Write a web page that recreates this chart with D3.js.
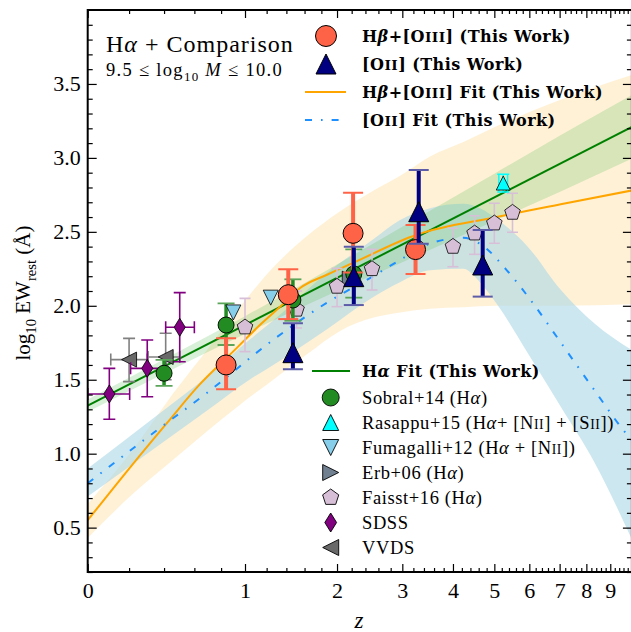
<!DOCTYPE html>
<html><head><meta charset="utf-8">
<script src="https://cdn.jsdelivr.net/npm/d3@7"></script>
<style>
body{margin:0;background:#fff}
svg{display:block}
text{fill:#000}
</style>
</head><body>
<svg id="c" width="631" height="632" font-family="Liberation Serif, Times New Roman, serif"></svg>
<script>
// ---------------- data ----------------
const zMajor = [0,1,2,3,4,5,6,7,8,9];
const zTickLabels = ["0","1","2","3","4","5","6","7","8","9"];
const yMajor = [0.5,1.0,1.5,2.0,2.5,3.0,3.5];
const yTickLabels = ["0.5","1.0","1.5","2.0","2.5","3.0","3.5"];

// H-beta + [OIII] (This Work)
const hbZ  = [0.84, 1.42, 2.22, 3.24];
const hbEW = [1.60, 2.075, 2.49, 2.38];
const hbLo = [1.435, 1.91, 2.225, 2.215];
const hbHi = [1.78, 2.247, 2.765, 2.546];
// [OII] (This Work)
const o2Z  = [1.47, 2.23, 3.30, 4.70];
const o2EW = [1.683, 2.197, 2.636, 2.276];
const o2Lo = [1.571, 2.005, 2.42, 2.062];
const o2Hi = [1.882, 2.40, 2.918, 2.513];
// Sobral+14
const sobZ  = [0.40, 0.84, 1.47, 2.23];
const sobEW = [1.544, 1.870, 2.039, 2.215];
const sobLo = [1.458, 1.735, 1.899, 2.055];
const sobHi = [1.634, 2.017, 2.179, 2.382];
// Rasappu+15
const rasZ = [5.24]; const rasEW = [2.83];
const rasZLo = [5.12]; const rasZHi = [5.36];
const rasLo = [2.77]; const rasHi = [2.89];
// Fumagalli+12
const fumZ = [0.90, 1.24]; const fumEW = [1.955, 2.055];
// Erb+06
const erbZ = [2.18]; const erbEW = [2.18];
// Faisst+16
const faiZ  = [1.0, 1.51, 2.0, 2.5, 4.0, 4.5, 5.0, 5.5];
const faiEW = [1.855, 1.975, 2.13, 2.249, 2.40, 2.49, 2.558, 2.63];
const faiLo = [1.69, 1.85, 1.994, 2.107, 2.264, 2.348, 2.423, 2.497];
const faiHi = [2.05, 2.10, 2.253, 2.382, 2.524, 2.609, 2.693, 2.761];
// SDSS
const sdssZ   = [0.10, 0.30, 0.50];
const sdssEW  = [1.404, 1.577, 1.855];
const sdssLo  = [1.233, 1.385, 1.622];
const sdssHi  = [1.577, 1.769, 2.089];
const sdssZLo = [0.0, 0.208, 0.41];
const sdssZHi = [0.203, 0.41, 0.60];
// VVDS
const vvZ   = [0.20, 0.41];
const vvEW  = [1.636, 1.654];
const vvLo  = [1.487, 1.50];
const vvHi  = [1.78, 1.814];
const vvZLo = [0.107, 0.305];
const vvZHi = [0.30, 0.50];

// Fits
const haFitZ  = [0, 10];
const haFitEW = [1.325, 3.21];
const haBandZ  = [0, 0.5, 1, 2, 3, 5, 7, 10];
const haBandLo = [1.283, 1.594, 1.81, 2.10, 2.295, 2.573, 2.77, 2.995];
const haBandHi = [1.367, 1.694, 1.93, 2.28, 2.535, 2.893, 3.15, 3.425];

const hbFitZ  = [0, 0.22, 0.42, 0.64, 0.91, 1.15, 1.38, 1.55, 1.87, 2.22, 3.26, 5.06, 7.13, 10];
const hbFitEW = [0.55, 0.93, 1.21, 1.47, 1.70, 1.88, 2.02, 2.12, 2.21, 2.29, 2.48, 2.60, 2.69, 2.78];
const hbBandZ  = [0, 0.222, 0.459, 0.69, 0.954, 1.265, 1.624, 2.041, 2.524, 2.963, 3.519, 4.248, 5.026, 7.128, 10];
const hbBandLo = [0.43, 0.73, 0.96, 1.15, 1.33, 1.50, 1.67, 1.83, 1.92, 1.955, 1.98, 1.99, 2.0, 2.0, 2.01];
const hbBandHi = [0.66, 1.03, 1.41, 1.70, 1.99, 2.26, 2.47, 2.64, 2.78, 2.88, 3.01, 3.11, 3.21, 3.40, 3.56];

const o2FitZ  = [0, 0.335, 0.69, 1.265, 1.866, 2.52, 2.96, 3.52, 4.23, 4.63, 5.34, 6.07, 7.01, 8.28, 9.7, 10];
const o2FitEW = [0.80, 1.14, 1.41, 1.77, 2.02, 2.20, 2.31, 2.42, 2.46, 2.42, 2.24, 2.03, 1.76, 1.44, 1.14, 1.09];
const o2BandZ  = [0, 0.335, 0.69, 1.04, 1.265, 1.866, 2.52, 2.96, 3.52, 4.23, 4.63, 5.1, 5.95, 7.03, 8.33, 10];
const o2BandLo = [0.71, 1.03, 1.29, 1.50, 1.60, 1.84, 2.06, 2.16, 2.24, 2.25, 2.16, 2.00, 1.68, 1.32, 0.94, 0.42];
const o2BandHi = [0.90, 1.24, 1.52, 1.77, 1.90, 2.22, 2.45, 2.58, 2.66, 2.69, 2.66, 2.58, 2.40, 2.11, 1.88, 1.70];

// ---------------- drawing ----------------
const svg = d3.select("#c");
const L = 87.7, R = 631.9, T = 10, B = 572;
const x = d3.scaleLog().domain([1, 11]).range([L, R]);
const X = z => x(1 + z);
const y = d3.scaleLinear().domain([0.2, 4.0]).range([B, T]);

svg.append("rect").attr("width",631).attr("height",632).attr("fill","#fff");
svg.append("defs").append("clipPath").attr("id","clip")
  .append("rect").attr("x",L).attr("y",T).attr("width",R-L).attr("height",B-T);
const plot = svg.append("g").attr("clip-path","url(#clip)");

function zip(zs, a, b){ return zs.map((z,i)=>({z, lo:a[i], hi:b ? b[i] : null})); }
const area = d3.area().x(d=>X(d.z)).y0(d=>y(d.lo)).y1(d=>y(d.hi)).curve(d3.curveMonotoneX);
const line = d3.line().x(d=>X(d.z)).y(d=>y(d.lo)).curve(d3.curveMonotoneX);

plot.append("path").attr("d", area(zip(hbBandZ, hbBandLo, hbBandHi))).attr("fill","orange").attr("fill-opacity",0.16);
plot.append("path").attr("d", area(zip(o2BandZ, o2BandLo, o2BandHi))).attr("fill","#add8e6").attr("fill-opacity",0.62);
plot.append("path").attr("d", area(zip(haBandZ, haBandLo, haBandHi))).attr("fill","#5fc35f").attr("fill-opacity",0.25);

plot.append("path").attr("d", line(zip(haFitZ, haFitEW))).attr("fill","none").attr("stroke","green").attr("stroke-width",2);
plot.append("path").attr("d", line(zip(hbFitZ, hbFitEW))).attr("fill","none").attr("stroke","orange").attr("stroke-width",2);
plot.append("path").attr("d", line(zip(o2FitZ, o2FitEW))).attr("fill","none").attr("stroke","dodgerblue").attr("stroke-width",2)
  .attr("stroke-dasharray","7,9,1.6,9");

// marker shapes
const shapes = {
  up:    r => `M0,${-r}L${r},${r}L${-r},${r}Z`,
  down:  r => `M0,${r}L${r},${-r}L${-r},${-r}Z`,
  left:  r => `M${-r},0L${r},${-r}L${r},${r}Z`,
  right: r => `M${r},0L${-r},${-r}L${-r},${r}Z`,
  diamond: r => `M0,${-r}L${r*0.62},0L0,${r}L${-r*0.62},0Z`,
  pent: r => d3.range(5).map(k=>{const a=(-90+72*k)*Math.PI/180;return (k?"L":"M")+(r*Math.cos(a)).toFixed(2)+","+(r*Math.sin(a)).toFixed(2);}).join("")+"Z",
};
function marker(g, cx, cy, kind, r, fill, stroke, sw){
  if(kind==="circle") return g.append("circle").attr("cx",cx).attr("cy",cy).attr("r",r).attr("fill",fill).attr("stroke",stroke).attr("stroke-width",sw);
  return g.append("path").attr("d",shapes[kind](r)).attr("transform",`translate(${cx},${cy})`).attr("fill",fill).attr("stroke",stroke).attr("stroke-width",sw).attr("stroke-linejoin","miter");
}
function errY(g, cx, y0, y1, color, w, cap, capColor, capW){
  g.append("line").attr("x1",cx).attr("x2",cx).attr("y1",y0).attr("y2",y1).attr("stroke",color).attr("stroke-width",w);
  [y0,y1].forEach(v=>g.append("line").attr("x1",cx-cap).attr("x2",cx+cap).attr("y1",v).attr("y2",v).attr("stroke",capColor).attr("stroke-width",capW));
}
function errX(g, cy, x0, x1, color, w, cap, capColor, capW){
  g.append("line").attr("y1",cy).attr("y2",cy).attr("x1",x0).attr("x2",x1).attr("stroke",color).attr("stroke-width",w);
  [x0,x1].forEach(v=>g.append("line").attr("y1",cy-cap).attr("y2",cy+cap).attr("x1",v).attr("x2",v).attr("stroke",capColor).attr("stroke-width",capW));
}
const pts = svg.append("g").attr("clip-path","url(#clip)");

// Erb+06
erbZ.forEach((z,i)=>marker(pts, X(z), y(erbEW[i]), "right", 8, "slategray", "#000", 0.8));
// Faisst+16
faiZ.forEach((z,i)=>{
  errY(pts, X(z), y(faiLo[i]), y(faiHi[i]), "#d8bfd8", 1.6, 5.5, "#d8bfd8", 1.6);
  marker(pts, X(z), y(faiEW[i]), "pent", 8.2, "#d8bfd8", "#000", 0.8);
});
// VVDS
vvZ.forEach((z,i)=>{
  errY(pts, X(z), y(vvLo[i]), y(vvHi[i]), "#808080", 1.6, 6, "#808080", 1.6);
  errX(pts, y(vvEW[i]), X(vvZLo[i]), X(vvZHi[i]), "#808080", 1.6, 6, "#808080", 1.6);
  marker(pts, X(z), y(vvEW[i]), "left", 7.5, "dimgray", "#000", 0.8);
});
// SDSS
sdssZ.forEach((z,i)=>{
  errY(pts, X(z), y(sdssLo[i]), y(sdssHi[i]), "purple", 1.6, 6, "purple", 1.6);
  errX(pts, y(sdssEW[i]), X(sdssZLo[i]), X(sdssZHi[i]), "purple", 1.6, 6, "purple", 1.6);
  marker(pts, X(z), y(sdssEW[i]), "diamond", 9, "purple", "#000", 0.8);
});
// Sobral+14
sobZ.forEach((z,i)=>{
  errY(pts, X(z), y(sobLo[i]), y(sobHi[i]), "forestgreen", 3.5, 8.5, "#5aa55a", 1.8);
  marker(pts, X(z), y(sobEW[i]), "circle", 8, "forestgreen", "#000", 0.9);
});
// Fumagalli+12
fumZ.forEach((z,i)=>marker(pts, X(z), y(fumEW[i]), "down", 7.5, "skyblue", "#000", 0.8));
// Rasappu+15
rasZ.forEach((z,i)=>{
  errY(pts, X(z), y(rasLo[i]), y(rasHi[i]), "cyan", 1.5, 6, "cyan", 1.5);
  errX(pts, y(rasEW[i]), X(rasZLo[i]), X(rasZHi[i]), "cyan", 1.5, 8.5, "cyan", 1.5);
  marker(pts, X(z), y(rasEW[i]), "up", 7, "cyan", "#000", 0.8);
});
// H-beta + [OIII]
hbZ.forEach((z,i)=>{
  errY(pts, X(z), y(hbLo[i]), y(hbHi[i]), "tomato", 4, 10, "tomato", 2);
  marker(pts, X(z), y(hbEW[i]), "circle", 10, "tomato", "#000", 1);
});
// [OII]
o2Z.forEach((z,i)=>{
  errY(pts, X(z), y(o2Lo[i]), y(o2Hi[i]), "navy", 4, 10, "#5c5ca8", 2);
  marker(pts, X(z), y(o2EW[i]), "up", 10, "navy", "#000", 1);
});

// ---------------- axes ----------------
const minorZ = d3.range(1, 50).map(k=>k*0.2).filter(v=>Math.abs(v-Math.round(v))>1e-6);
const minorY = d3.range(2, 40).map(k=>k/10).filter(v=>Math.abs(v*2-Math.round(v*2))>1e-6);
const ax = svg.append("g");
function styleAxis(g){ g.select(".domain").remove(); g.selectAll("line").attr("stroke","#000").attr("stroke-width",1.2); }
function tickText(g){ g.attr("font-family",null); g.selectAll("text").attr("font-size",22).style("font-family","Liberation Serif"); }
ax.append("g").attr("transform",`translate(0,${B})`)
  .call(d3.axisBottom(x).tickValues(zMajor.map(z=>1+z)).tickFormat((d,i)=>zTickLabels[i]).tickSize(-8).tickPadding(10))
  .call(styleAxis).call(tickText);
ax.append("g").attr("transform",`translate(0,${B})`)
  .call(d3.axisBottom(x).tickValues(minorZ.map(z=>1+z)).tickFormat("").tickSize(-4)).call(styleAxis);
ax.append("g").attr("transform",`translate(0,${T})`)
  .call(d3.axisTop(x).tickValues(zMajor.map(z=>1+z)).tickFormat("").tickSize(-8)).call(styleAxis);
ax.append("g").attr("transform",`translate(0,${T})`)
  .call(d3.axisTop(x).tickValues(minorZ.map(z=>1+z)).tickFormat("").tickSize(-4)).call(styleAxis);
ax.append("g").attr("transform",`translate(${L},0)`)
  .call(d3.axisLeft(y).tickValues(yMajor).tickFormat((d,i)=>yTickLabels[i]).tickSize(-9).tickPadding(7))
  .call(styleAxis).call(tickText);
ax.append("g").attr("transform",`translate(${L},0)`)
  .call(d3.axisLeft(y).tickValues(minorY).tickFormat("").tickSize(-5)).call(styleAxis);
ax.append("g").attr("transform",`translate(${R},0)`)
  .call(d3.axisRight(y).tickValues(yMajor).tickFormat("").tickSize(-9)).call(styleAxis);
ax.append("g").attr("transform",`translate(${R},0)`)
  .call(d3.axisRight(y).tickValues(minorY).tickFormat("").tickSize(-5)).call(styleAxis);
svg.append("rect").attr("x",L).attr("y",T).attr("width",R-L).attr("height",B-T)
  .attr("fill","none").attr("stroke","#000").attr("stroke-width",2);

// ---------------- text helpers ----------------
function rich(t, segs, size, scFactor){
  let shift = 0;
  segs.forEach(s=>{
    const ts = t.append("tspan").text(s.t);
    let fs = size, target = 0;
    if(s.sub){ fs = size*0.7; target = size*0.28; }
    if(s.sc){ fs = size*(scFactor||0.74); }
    if(s.it) ts.attr("font-style","italic");
    ts.attr("font-size", fs);
    const dy = target - shift;
    if(dy) ts.attr("dy", dy);
    shift = target;
  });
  return t;
}

// title
rich(svg.append("text").attr("x",106).attr("y",52).attr("letter-spacing",1.0),
  [{t:"H"},{t:"α",it:true},{t:" + Comparison"}], 24);
rich(svg.append("text").attr("x",106).attr("y",76).attr("letter-spacing",1.3),
  [{t:"9.5 ≤ log"},{t:"10",sub:true},{t:" "},{t:"M",it:true},{t:" ≤ 10.0"}], 18.5);

// axis labels
rich(svg.append("text").attr("transform","translate(30,293) rotate(-90)").attr("text-anchor","middle"),
  [{t:"log"},{t:"10",sub:true},{t:" EW"},{t:"rest",sub:true},{t:" (Å)"}], 21);
svg.append("text").attr("x",359).attr("y",628).attr("text-anchor","middle").attr("font-size",23).attr("font-style","italic").text("z");

// ---------------- legends ----------------
const lg = svg.append("g");
function legText(yy, segs, bold){
  const t = lg.append("text").attr("x",362).attr("y",yy+(bold?5.5:6));
  if(bold) t.style("font-family","DejaVu Serif").attr("font-weight","bold").attr("letter-spacing",0.45);
  else t.attr("letter-spacing",0.6);
  rich(t, segs, bold?16:18.5, bold?0.86:0.74);
}
marker(lg, 326, 36, "circle", 10.5, "tomato", "#000", 1);
legText(36, [{t:"H"},{t:"β",it:true},{t:"+[O"},{t:"III",sc:true},{t:"] (This Work)"}], true);
marker(lg, 326, 64, "up", 10, "navy", "#000", 1);
legText(64, [{t:"[O"},{t:"II",sc:true},{t:"] (This Work)"}], true);
lg.append("line").attr("x1",305).attr("x2",346).attr("y1",92).attr("y2",92).attr("stroke","orange").attr("stroke-width",2);
legText(92, [{t:"H"},{t:"β",it:true},{t:"+[O"},{t:"III",sc:true},{t:"] Fit (This Work)"}], true);
lg.append("line").attr("x1",305).attr("x2",346).attr("y1",120).attr("y2",120).attr("stroke","dodgerblue").attr("stroke-width",2).attr("stroke-dasharray","7,9,1.6,9");
legText(120, [{t:"[O"},{t:"II",sc:true},{t:"] Fit (This Work)"}], true);

lg.append("line").attr("x1",312).attr("x2",350).attr("y1",371).attr("y2",371).attr("stroke","green").attr("stroke-width",2);
legText(371, [{t:"H"},{t:"α",it:true},{t:" Fit (This Work)"}], true);
const mx = 330.7;
marker(lg, mx, 397.5, "circle", 8.5, "forestgreen", "#000", 0.9);
legText(397.5, [{t:"Sobral+14 (H"},{t:"α",it:true},{t:")"}], false);
marker(lg, mx, 422.5, "up", 8, "cyan", "#000", 0.9);
legText(422.5, [{t:"Rasappu+15 (H"},{t:"α",it:true},{t:"+ [N"},{t:"II",sc:true},{t:"] + [S"},{t:"II",sc:true},{t:"])"}], false);
marker(lg, mx, 447.5, "down", 8, "skyblue", "#000", 0.9);
legText(447.5, [{t:"Fumagalli+12 (H"},{t:"α",it:true},{t:" + [N"},{t:"II",sc:true},{t:"])"}], false);
marker(lg, mx, 472.5, "right", 8, "slategray", "#000", 0.9);
legText(472.5, [{t:"Erb+06 (H"},{t:"α",it:true},{t:")"}], false);
marker(lg, mx, 497.5, "pent", 8.5, "#d8bfd8", "#000", 0.9);
legText(497.5, [{t:"Faisst+16 (H"},{t:"α",it:true},{t:")"}], false);
marker(lg, mx, 522.5, "diamond", 9.5, "purple", "#000", 0.9);
legText(522.5, [{t:"SDSS"}], false);
marker(lg, mx, 547.5, "left", 8, "dimgray", "#000", 0.9);
legText(547.5, [{t:"VVDS"}], false);
</script>
</body></html>
